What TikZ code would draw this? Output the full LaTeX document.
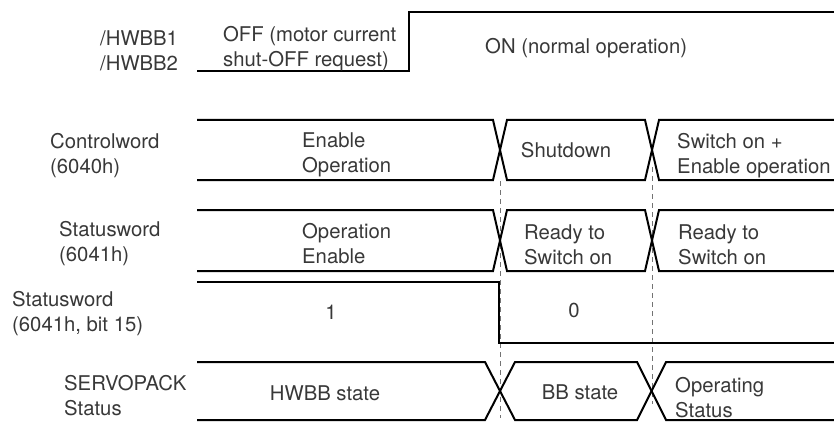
\documentclass[tikz,border=0pt]{standalone}
\usepackage{fontspec}
\setmainfont{TeX Gyre Heros}
\definecolor{txt}{gray}{0.22}
\definecolor{dsh}{gray}{0.45}
\tikzset{
  sig/.style={line width=2pt, black, line join=miter},
  guide/.style={dsh, line width=1pt, dash pattern=on 5pt off 4pt},
  lbl/.style={inner sep=0pt, text=txt, align=left, anchor=west, yshift=-2.5pt, font=\fontsize{20.3}{25}\selectfont},
  one/.style={inner sep=0pt, text=txt, align=left, anchor=west, font=\fontsize{20.3}{25}\selectfont},
  ctr/.style={inner sep=0pt, text=txt, align=center, anchor=center, font=\fontsize{20.3}{25}\selectfont}
}
\begin{document}
\begin{tikzpicture}[x=1pt,y=-1pt]
\useasboundingbox (0,0) rectangle (834,422);
% guides
\coordinate (g1a) at (500,181); \coordinate (g1b) at (500,418);
\coordinate (g2a) at (652,167); \coordinate (g2b) at (652,404);
\draw[guide] (g1a) -- (g1b);
\draw[guide] (g2a) -- (g2b);
% HWBB
\draw[sig] (197,71) -- (409,71) -- (409,12) -- (834,12);
\node[lbl] (hw) at (100,48) {/HWBB1\\/HWBB2};
\node[lbl] (off) at (223,46) {OFF (motor current\\shut-OFF request)};
\node[one] (on) at (485,48) {ON (normal operation)};
% Controlword
\draw[sig] (197,120) -- (493,120) -- (507,180) -- (645,180) -- (659,120) -- (834,120);
\draw[sig] (197,180) -- (493,180) -- (507,120) -- (645,120) -- (659,180) -- (834,180);
\node[lbl] (cw) at (50,153) {Controlword\\(6040h)};
\node[lbl] (cw1) at (302,152) {Enable\\Operation};
\node[ctr] (cw2) at (566,150) {Shutdown};
\node[lbl] (cw3) at (677,153) {Switch on +\\Enable operation};
% Statusword
\draw[sig] (197,210) -- (493,210) -- (507,271) -- (645,271) -- (659,210) -- (834,210);
\draw[sig] (197,271) -- (493,271) -- (507,210) -- (645,210) -- (659,271) -- (834,271);
\node[lbl] (sw) at (59,241) {Statusword\\(6041h)};
\node[lbl] (sw1) at (302,241) {Operation\\Enable};
\node[lbl] (sw2) at (524,242) {Ready to\\Switch on};
\node[lbl] (sw3) at (678,242) {Ready to\\Switch on};
% bit 15
\draw[sig] (197,282) -- (499,282) -- (499,343) -- (834,343);
\node[lbl] (sb) at (12,311) {Statusword\\(6041h, bit 15)};
\node[ctr] (sb1) at (331,312) {1};
\node[ctr] (sb0) at (574,310) {0};
% SERVOPACK
\draw[sig] (197,362) -- (485,362) -- (515,420) -- (637,420) -- (666,362) -- (834,362);
\draw[sig] (197,420) -- (485,420) -- (515,362) -- (637,362) -- (666,420) -- (834,420);
\node[lbl] (sp) at (64,393) {SERVOPACK\\Status};
\node[ctr] (sp1) at (325,393) {HWBB state};
\node[ctr] (sp2) at (580,392) {BB state};
\node[lbl] (sp3) at (675,395) {Operating\\Status};
\end{tikzpicture}
\end{document}
